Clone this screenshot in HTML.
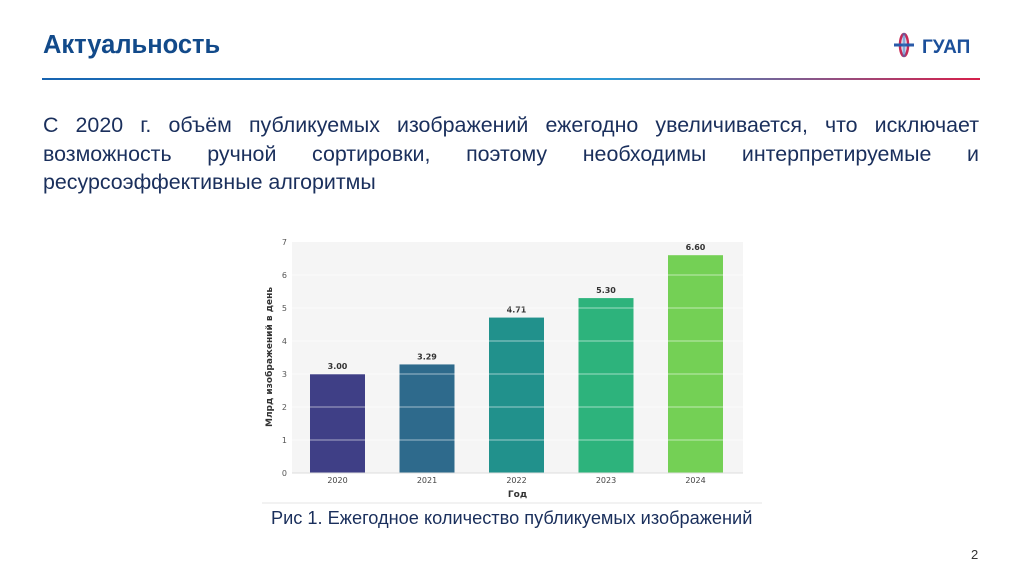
<!DOCTYPE html>
<html><head><meta charset="utf-8"><style>
body{margin:0;width:1024px;height:574px;background:#fff;position:relative;overflow:hidden;font-family:"Liberation Sans",sans-serif}
.abs{position:absolute}
#title{left:43px;top:31px;font-size:25.5px;font-weight:bold;color:#124a8a}
#rule{left:42px;top:78px;width:938px;height:2px;background:linear-gradient(90deg,#1763b0 0%,#2a9ad6 60%,#d61f4a 100%)}
#body{left:43px;top:111px;width:936px;font-size:21.4px;line-height:28.5px;color:#1a2f5c}
#body div{text-align:justify;text-align-last:justify;white-space:nowrap}
#body div.last{text-align-last:left}
#caption{left:271px;top:508px;font-size:18.2px;color:#1a2f5c}
#pnum{left:971px;top:547px;font-size:13px;color:#333}
</style></head><body>
<div class="abs" id="title">Актуальность</div>
<div class="abs" id="rule"></div>
<div class="abs" style="left:892px;top:32px;width:90px;height:30px">
<svg width="90" height="30"><ellipse cx="12" cy="13" rx="4" ry="11" fill="none" stroke="#c62a57" stroke-width="2.5"/><rect x="2" y="11.5" width="20" height="3" fill="#2a5aa8"/><rect x="10.5" y="1" width="3" height="24" fill="#3b73c0" opacity="0.6"/><text x="30" y="21" font-family="Liberation Sans" font-weight="bold" font-size="19" fill="#1b4f9a">ГУАП</text></svg></div>
<div class="abs" id="body">
<div>С 2020 г. объём публикуемых изображений ежегодно увеличивается, что исключает</div>
<div>возможность ручной сортировки, поэтому необходимы интерпретируемые и</div>
<div class="last">ресурсоэффективные алгоритмы</div>
</div>
<svg class="abs" style="left:0;top:0" width="1024" height="574" id="chart"></svg>
<div class="abs" id="caption">Рис 1. Ежегодное количество публикуемых изображений</div>
<div class="abs" id="pnum">2</div>
<script>
const categories=["2020","2021","2022","2023","2024"];
const values=[3.00,3.29,4.71,5.30,6.60];
const labels=["3.00","3.29","4.71","5.30","6.60"];
const colors=["#3f3f86","#2e6a8c","#21918c","#2db37c","#74d055"];
const yTicks=[0,1,2,3,4,5,6,7];
const svg=document.getElementById('chart');
const NS='http://www.w3.org/2000/svg';
const X0=292,X1=743,Y0=473,Y1=242,YMAX=7;
const y=v=>Y0-(v/YMAX)*(Y0-Y1);
const step=89.5,first=337.5,bw=55;
const x=i=>first+i*step;
function mk(t,a){const e=document.createElementNS(NS,t);for(const k in a)e.setAttribute(k,a[k]);svg.appendChild(e);return e;}
let e=mk('rect',{x:X0,y:Y1,width:X1-X0,height:Y0-Y1,fill:'#f5f5f5'});


categories.forEach((c,i)=>{
 let b=mk('rect',{x:x(i)-bw/2,y:y(values[i]),width:bw,height:Y0-y(values[i]),fill:colors[i]});
 
 
 let t=mk('text',{x:x(i),y:y(values[i])-5,'text-anchor':'middle','font-size':8,'font-weight':'bold',fill:'#333','font-family':'DejaVu Sans'});
 t.textContent=labels[i];
 
 
 let xl=mk('text',{x:x(i),y:Y0+10,'text-anchor':'middle','font-size':8,fill:'#444','font-family':'DejaVu Sans'});
 xl.textContent=c;
 
 
});
yTicks.forEach(v=>{
 if(v>0&&v<YMAX){let g=mk('line',{x1:X0,x2:X1,y1:y(v),y2:y(v),stroke:'#fff','stroke-opacity':0.55,'stroke-width':1});
 
 }
 let t=mk('text',{x:X0-5,y:y(v)+3,'text-anchor':'end','font-size':8,fill:'#555','font-family':'DejaVu Sans'});
 t.textContent=v;
 
 
});
let xa=mk('line',{x1:X0,x2:X1,y1:Y0,y2:Y0,stroke:'#ddd'});


let xt=mk('text',{x:(X0+X1)/2,y:497,'text-anchor':'middle','font-size':9,'font-weight':'bold',fill:'#333','font-family':'DejaVu Sans'});
xt.textContent='Год';


let yt=mk('text',{x:0,y:0,'text-anchor':'middle','font-size':9,'font-weight':'bold',fill:'#333','font-family':'DejaVu Sans',transform:'translate(272,357) rotate(-90)'});
yt.textContent='Млрд изображений в день';


let bl=mk('line',{x1:262,x2:762,y1:503,y2:503,stroke:'#e4e4e4','stroke-width':1});


</script>
</body></html>
